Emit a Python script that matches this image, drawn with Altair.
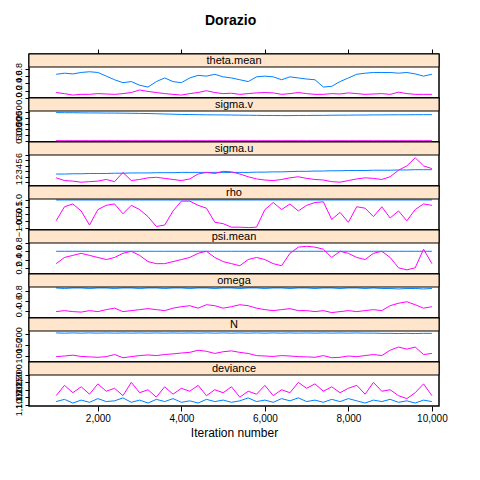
import pandas as pd
import altair as alt

iters = list(range(1000, 10001, 200))  # 46 points

theta_b = [0.65, 0.68, 0.66, 0.70, 0.72, 0.70, 0.60, 0.50, 0.42, 0.45,
           0.35, 0.30, 0.45, 0.55, 0.45, 0.42, 0.55, 0.62, 0.60, 0.65,
           0.58, 0.55, 0.50, 0.45, 0.58, 0.60, 0.58, 0.50, 0.58, 0.55,
           0.52, 0.50, 0.30, 0.32, 0.45, 0.55, 0.65, 0.68, 0.70, 0.70,
           0.70, 0.68, 0.70, 0.66, 0.60, 0.65]
theta_m = [0.15, 0.12, 0.08, 0.10, 0.10, 0.12, 0.11, 0.10, 0.12, 0.15,
           0.22, 0.18, 0.15, 0.12, 0.10, 0.08, 0.12, 0.15, 0.20, 0.15,
           0.12, 0.13, 0.10, 0.12, 0.14, 0.15, 0.14, 0.10, 0.12, 0.15,
           0.12, 0.10, 0.10, 0.12, 0.11, 0.14, 0.12, 0.10, 0.11, 0.12,
           0.10, 0.16, 0.12, 0.10, 0.10, 0.10]
sigv_b = [246, 245, 245, 244, 243, 243, 242, 242, 241, 240,
          239, 238, 236, 234, 232, 230, 229, 228, 227, 226,
          226, 225, 224, 223, 222, 221, 221, 220, 220, 221,
          221, 222, 222, 223, 224, 224, 225, 225, 226, 226,
          227, 227, 227, 228, 228, 228]
sigv_m = [1.5] * 46
sigu_b = [2.5, 2.5, 2.55, 2.55, 2.6, 2.6, 2.6, 2.65, 2.65, 2.7,
          2.7, 2.7, 2.75, 2.75, 2.75, 2.8, 2.8, 2.8, 2.8, 2.8,
          2.8, 2.8, 2.8, 2.8, 2.85, 2.85, 2.9, 2.9, 2.95, 3.0,
          3.0, 3.05, 3.05, 3.1, 3.1, 3.15, 3.15, 3.15, 3.2, 3.2,
          3.2, 3.25, 3.25, 3.3, 3.3, 3.3]
sigu_m = [1.8, 1.3, 1.2, 1.0, 1.1, 1.2, 1.5, 1.1, 2.8, 1.3,
          1.5, 1.8, 1.9, 1.7, 1.5, 1.3, 1.6, 2.5, 2.8, 2.6,
          3.0, 2.9, 2.5, 2.0, 1.6, 1.4, 1.3, 1.5, 1.8, 2.0,
          1.7, 1.5, 1.4, 1.1, 1.0, 1.3, 1.6, 1.8, 1.7, 1.5,
          2.0, 3.2, 4.0, 5.5, 4.0, 3.5]
rho_b = [0.98] * 46
rho_m = [-0.5, 0.5, 0.7, 0.2, -0.8, 0.3, 0.6, 0.7, 0.0, 0.6,
         0.3, -0.2, -0.9, -0.8, 0.2, 0.9, 0.9, 0.6, 0.4, -0.6,
         -0.7, -0.95, -0.95, -0.98, -0.95, 0.3, 0.8, 0.3, 0.7, 0.2,
         0.6, 0.8, 0.85, -0.4, 0.1, -0.6, 0.5, 0.4, -0.2, 0.5,
         -0.3, 0.2, -0.5, 0.3, 0.7, 0.6]
psi_b = [0.6] * 46
psi_m = [0.30, 0.45, 0.50, 0.55, 0.50, 0.45, 0.40, 0.45, 0.55, 0.60,
         0.50, 0.35, 0.30, 0.30, 0.35, 0.40, 0.45, 0.55, 0.60, 0.45,
         0.35, 0.30, 0.25, 0.40, 0.45, 0.40, 0.30, 0.25, 0.55, 0.70,
         0.72, 0.70, 0.65, 0.45, 0.60, 0.55, 0.45, 0.40, 0.55, 0.60,
         0.45, 0.20, 0.15, 0.20, 0.65, 0.30]
omega_b = [0.86, 0.85, 0.86, 0.86, 0.85, 0.86, 0.86, 0.85, 0.86, 0.86,
           0.85, 0.86, 0.86, 0.85, 0.86, 0.86, 0.85, 0.86, 0.86, 0.85,
           0.86, 0.86, 0.85, 0.86, 0.86, 0.85, 0.86, 0.86, 0.85, 0.86,
           0.86, 0.85, 0.86, 0.86, 0.85, 0.86, 0.86, 0.85, 0.86, 0.85,
           0.85, 0.84, 0.85, 0.85, 0.84, 0.85]
omega_m = [0.38, 0.40, 0.38, 0.37, 0.40, 0.38, 0.42, 0.45, 0.38, 0.40,
           0.42, 0.44, 0.42, 0.40, 0.45, 0.48, 0.50, 0.45, 0.52, 0.50,
           0.45, 0.48, 0.52, 0.50, 0.45, 0.42, 0.40, 0.42, 0.44, 0.40,
           0.40, 0.38, 0.40, 0.36, 0.38, 0.40, 0.38, 0.40, 0.42, 0.40,
           0.50, 0.55, 0.58, 0.52, 0.45, 0.48]
n_b = [206, 205, 206, 205, 206, 205, 206, 205, 206, 205,
       206, 205, 206, 205, 206, 205, 206, 205, 206, 205,
       206, 205, 206, 205, 206, 205, 206, 205, 206, 205,
       206, 205, 206, 205, 206, 205, 206, 205, 205, 204,
       204, 203, 204, 203, 204, 204]
n_m = [95, 98, 102, 96, 94, 92, 95, 105, 90, 95,
       100, 103, 100, 105, 108, 112, 115, 125, 120, 110,
       118, 122, 115, 110, 100, 98, 96, 100, 98, 95,
       94, 92, 100, 90, 92, 98, 95, 100, 105, 100,
       125, 140, 130, 140, 105, 110]
dev_b = [1120, 1135, 1110, 1130, 1115, 1140, 1120, 1125, 1145, 1115,
         1130, 1110, 1135, 1120, 1140, 1115, 1125, 1110, 1135, 1120,
         1130, 1115, 1125, 1145, 1120, 1130, 1115, 1140, 1125, 1145,
         1120, 1130, 1115, 1135, 1120, 1140, 1125, 1110, 1130, 1120,
         1135, 1115, 1125, 1110, 1130, 1120]
dev_m = [1160, 1230, 1180, 1220, 1170, 1240, 1190, 1210, 1160, 1250,
         1180, 1200, 1150, 1220, 1170, 1210, 1190, 1230, 1160, 1200,
         1180, 1220, 1150, 1190, 1170, 1230, 1160, 1200, 1180, 1250,
         1210, 1240, 1190, 1220, 1180, 1210, 1230, 1170, 1250, 1190,
         1200, 1160, 1140, 1180, 1240, 1160]

params = ["theta.mean", "sigma.v", "sigma.u", "rho", "psi.mean", "omega", "N", "deviance"]
series = {
    "theta.mean": (theta_b, theta_m, [0, 0.85], [0.0, 0.2, 0.4, 0.6, 0.8]),
    "sigma.v": (sigv_b, sigv_m, [-10, 260], [0, 50, 100, 150, 200, 250]),
    "sigma.u": (sigu_b, sigu_m, [0.3, 6.0], [1, 2, 3, 4, 5, 6]),
    "rho": (rho_b, rho_m, [-1.15, 1.05], [-1.0, -0.5, 0.0, 0.5, 1.0]),
    "psi.mean": (psi_b, psi_m, [0.05, 0.8], [0.2, 0.4, 0.6, 0.8]),
    "omega": (omega_b, omega_m, [0.25, 0.88], [0.4, 0.6, 0.8]),
    "N": (n_b, n_m, [70, 215], [100, 150, 200]),
    "deviance": (dev_b, dev_m, [1090, 1300], [1100, 1150, 1200, 1250, 1300]),
}

W = 410
H = 44
S = 13
xticks = [2000, 4000, 6000, 8000, 10000]
xscale = alt.Scale(domain=[350, 10170], nice=False)
colors = alt.Scale(domain=["1", "2"], range=["#0080ff", "#ff00ff"])
one = pd.DataFrame({"x": [0]})

rows = []
for i, p in enumerate(params):
    b, m, dom, ticks = series[p]
    df = pd.DataFrame({"iter": iters * 2, "value": b + m,
                       "chain": ["1"] * len(b) + ["2"] * len(m)})

    if i == 0:
        xaxis = alt.Axis(orient="top", values=xticks, labels=False, title=None, grid=False,
                         domain=False, tickColor="black", tickSize=5)
    elif i == len(params) - 1:
        xaxis = alt.Axis(values=xticks, title="Iteration number", grid=False, domain=False,
                         tickColor="black", labelColor="black", labelFontSize=10,
                         titleFontSize=12, titleFontWeight="normal", titleColor="black",
                         labelFont="Liberation Sans", titleFont="Liberation Sans")
    else:
        xaxis = None

    lines = alt.Chart(df).mark_line(strokeWidth=1).encode(
        x=alt.X("iter:Q", scale=xscale, axis=xaxis),
        y=alt.Y("value:Q", scale=alt.Scale(domain=dom, nice=False, zero=False, range=[H, S]),
                axis=alt.Axis(values=ticks, title=None, grid=False, domain=False,
                              labelAngle=270, labelAlign="center", labelBaseline="bottom",
                              labelFontSize=9, labelColor="black", tickColor="black",
                              labelFont="Liberation Sans", labelOverlap=False, tickSize=4)),
        color=alt.Color("chain:N", scale=colors, legend=None),
        detail="chain:N",
    )
    rect = alt.Chart(one).mark_rect(fill="#ffe5cc", stroke="black", strokeWidth=1).encode(
        x=alt.value(0), x2=alt.value(W), y=alt.value(0), y2=alt.value(S))
    txt = alt.Chart(one).mark_text(fontSize=11, font="Liberation Sans").encode(
        x=alt.value(W / 2), y=alt.value(S / 2 + 0.5), text=alt.value(p))
    rows.append((lines + rect + txt).properties(width=W, height=H))

chart = alt.vconcat(*rows, spacing=0, bounds="flush").properties(
    title=alt.Title("Dorazio", fontSize=14, fontWeight="bold", font="Liberation Sans",
                    offset=20, anchor="middle")
).configure_view(stroke="black", strokeWidth=1.5)

chart.save("out.html", embed_options={"renderer": "svg", "actions": False})
